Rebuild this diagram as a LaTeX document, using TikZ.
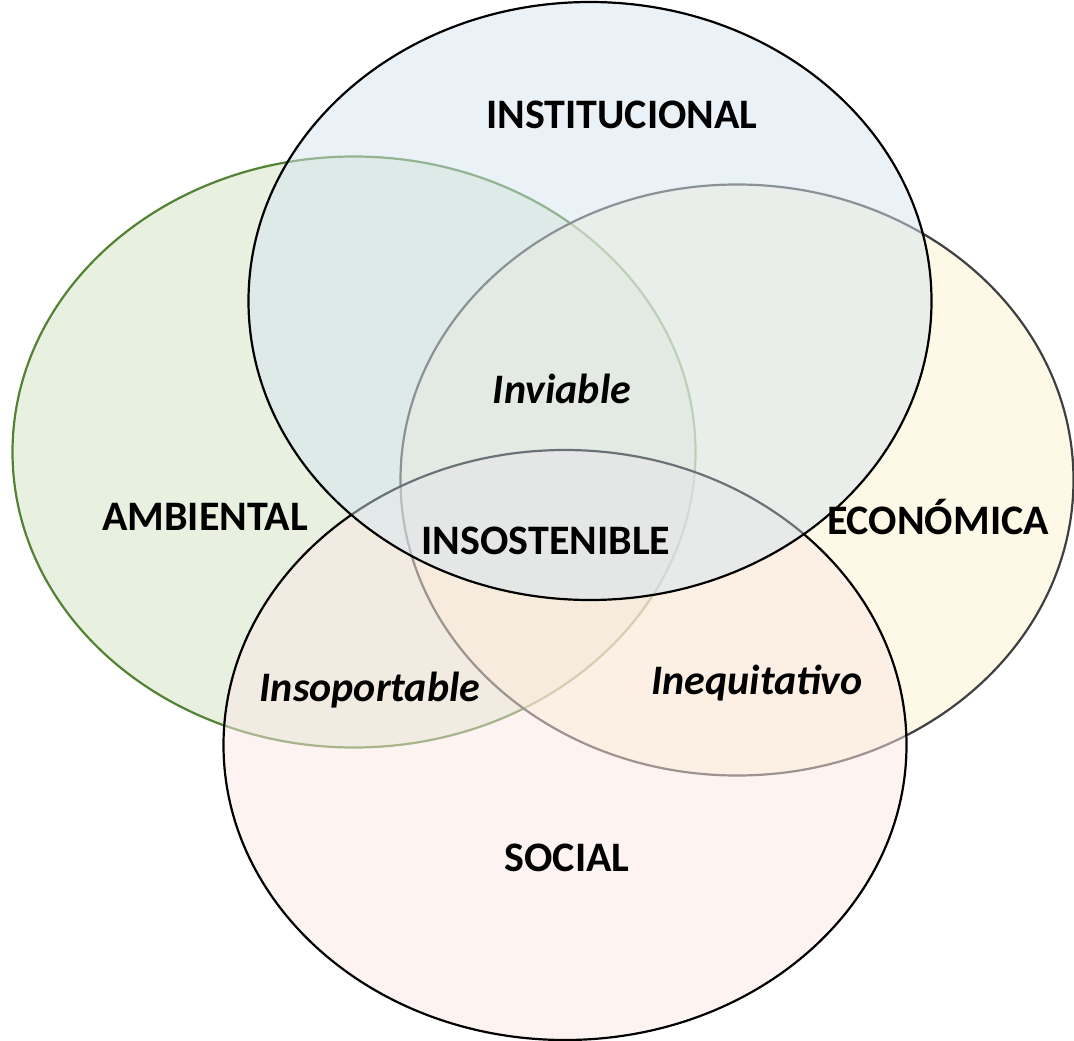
\documentclass[tikz,border=0pt]{standalone}
\usepackage{fontspec}
\setmainfont{Carlito}
\usetikzlibrary{shapes.geometric}
\definecolor{instfill}{RGB}{213,229,241}
\definecolor{ambfill}{RGB}{209,225,193}
\definecolor{ecofill}{RGB}{253,241,205}
\definecolor{socfill}{RGB}{251,231,227}
\definecolor{ambline}{RGB}{84,130,53}
\definecolor{ecoline}{RGB}{64,64,64}
\begin{document}
\begin{tikzpicture}[x=1pt, y=-1pt,
                    sphere/.style={ellipse, inner sep=0pt, line width=2.2pt, fill opacity=0.5},
                    area/.style={font=\fontsize{42}{44}\selectfont\bfseries},
                    overlap/.style={font=\fontsize{42}{44}\selectfont\bfseries\itshape}]
\useasboundingbox (0,0) rectangle (1074,1041);
% circles, back to front
\node[sphere, draw=ambline, fill=ambfill, minimum width=683pt, minimum height=591pt] (ambiental) at (354,452) {};
\node[sphere, draw=ecoline, fill=ecofill, minimum width=673pt, minimum height=591pt] (economica) at (737,480) {};
\node[sphere, draw=black, fill=socfill, minimum width=683pt, minimum height=590pt] (social) at (565,745) {};
\node[sphere, draw=black, fill=instfill, minimum width=683pt, minimum height=598pt] (institucional) at (590,301) {};

% labels
\node[area] (lblinst) at (622,115) {INSTITUCIONAL};
\node[area] (lblamb) at (205,517) {AMBIENTAL};
\node[area] (lbleco) at (938,517) {ECONÓMICA};
\node[area] (lblsoc) at (567,858) {SOCIAL};
\node[area] (lblcenter) at (546,541) {INSOSTENIBLE};
\node[overlap] (lblinviable) at (562,389) {Inviable};
\node[overlap] (lblinsop) at (370,690) {Insoportable};
\node[overlap] (lblineq) at (757,683) {Inequitativo};
\end{tikzpicture}
\end{document}
